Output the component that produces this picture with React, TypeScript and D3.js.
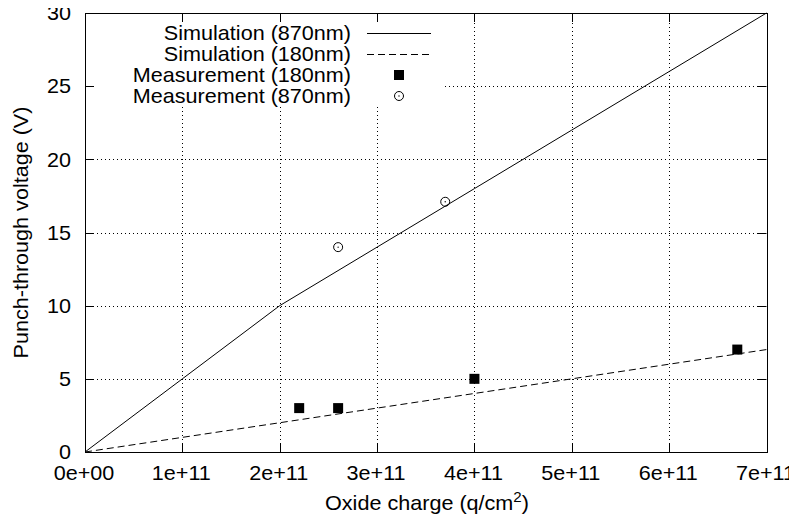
import React from "react";
import * as d3 from "d3";

const simX = [0, 1e11, 2e11, 3e11, 4e11, 5e11, 6e11, 7e11];
const sim870 = [0, 5, 10, 14, 18, 22, 26, 30];
const sim180 = [0, 1, 2, 3, 4, 5, 6, 7];
const meas180X = [2.2e11, 2.6e11, 4e11, 6.7e11];
const meas180Y = [3, 3, 5, 7];
const meas870X = [2.6e11, 3.7e11];
const meas870Y = [14, 17.1];
const xTicks = [0, 1e11, 2e11, 3e11, 4e11, 5e11, 6e11, 7e11];
const xTickLabels = ["0e+00", "1e+11", "2e+11", "3e+11", "4e+11", "5e+11", "6e+11", "7e+11"];
const yTicks = [0, 5, 10, 15, 20, 25, 30];
const legendLabels = ["Simulation (870nm)", "Simulation (180nm)", "Measurement (180nm)", "Measurement (870nm)"];

const SX = 1.08;
const FS = 20;

function Txt(props: { x: number; y: number; anchor?: string; dy?: string; rotate?: number; children: React.ReactNode }) {
  const { x, y, anchor = "start", dy, rotate = 0, children } = props;
  return (
    <g transform={`translate(${x},${y}) rotate(${rotate}) scale(${SX},1)`}>
      <text x={0} y={0} dy={dy} textAnchor={anchor as any} fontSize={FS} fill="#000">
        {children}
      </text>
    </g>
  );
}

export default function App() {
  const W = 797, H = 525;
  const L = 85, R = 766.5, T = 13, B = 452;
  const x = d3.scaleLinear().domain([0, 7e11]).range([L, R]);
  const y = d3.scaleLinear().domain([0, 30]).range([B, T]);
  const line = d3.line<number>().x((_, i) => x(simX[i])).y((d) => y(d));
  const font = "'Liberation Sans', Arial, Helvetica, sans-serif";
  const legX = 351, legSampleX0 = 367, legSampleX1 = 431, legY0 = 33, legDy = 21;
  const legMarkX = 399;
  const tickLen = 9;

  return (
    <div style={{ margin: -8 }}>
      <svg width={W} height={H} style={{ display: "block", background: "#fff" }} fontFamily={font}>
        <rect x={0} y={0} width={W} height={H} fill="#fff" />
        {/* grid */}
        <g stroke="#000" strokeWidth={1} strokeDasharray="1,3">
          {xTicks.slice(1, -1).map((t) => (
            <line key={"gx" + t} x1={Math.round(x(t)) + 0.5} x2={Math.round(x(t)) + 0.5} y1={B} y2={T} />
          ))}
          {yTicks.slice(1, -1).map((t) => (
            <line key={"gy" + t} y1={Math.round(y(t)) + 0.5} y2={Math.round(y(t)) + 0.5} x1={L} x2={R} />
          ))}
        </g>
        {/* legend background */}
        <rect x={L + 1} y={T + 1} width={443 - L - 1} height={106 - T - 1} fill="#fff" />
        {/* ticks */}
        <g stroke="#000" strokeWidth={1}>
          {xTicks.map((t) => (
            <g key={"tx" + t}>
              <line x1={Math.round(x(t)) + 0.5} x2={Math.round(x(t)) + 0.5} y1={B} y2={B - tickLen} />
              <line x1={Math.round(x(t)) + 0.5} x2={Math.round(x(t)) + 0.5} y1={T} y2={T + tickLen} />
            </g>
          ))}
          {yTicks.map((t) => (
            <g key={"ty" + t}>
              <line y1={Math.round(y(t)) + 0.5} y2={Math.round(y(t)) + 0.5} x1={L} x2={L + tickLen} />
              <line y1={Math.round(y(t)) + 0.5} y2={Math.round(y(t)) + 0.5} x1={R} x2={R - tickLen} />
            </g>
          ))}
        </g>
        {/* tick labels */}
        {xTicks.map((t, i) => (
          <Txt key={"lx" + t} x={x(t) - 1} y={480} anchor="middle">{xTickLabels[i]}</Txt>
        ))}
        {yTicks.map((t) => (
          <Txt key={"ly" + t} x={71} y={y(t)} dy="0.36em" anchor="end">{t}</Txt>
        ))}
        {/* axis titles */}
        <Txt x={427} y={510} anchor="middle">
          Oxide charge (q/cm<tspan dy={-8} fontSize={14}>2</tspan><tspan dy={8}>)</tspan>
        </Txt>
        <Txt x={28} y={(T + B) / 2} rotate={-90} anchor="middle">
          Punch-through voltage (V)
        </Txt>
        {/* data lines */}
        <path d={line(sim870) || ""} fill="none" stroke="#000" strokeWidth={1} />
        <path d={line(sim180) || ""} fill="none" stroke="#000" strokeWidth={1} strokeDasharray="7,4" />
        {/* markers */}
        {meas180X.map((v, i) => (
          <rect key={"m180" + i} x={x(v) - 5} y={y(meas180Y[i]) - 5} width={10} height={10} fill="#000" />
        ))}
        {meas870X.map((v, i) => (
          <g key={"m870" + i}>
            <circle cx={x(v)} cy={y(meas870Y[i])} r={4.5} fill="none" stroke="#000" strokeWidth={1} />
            <circle cx={x(v)} cy={y(meas870Y[i])} r={0.7} fill="#000" />
          </g>
        ))}
        {/* legend */}
        {legendLabels.map((lab, i) => (
          <Txt key={lab} x={legX} y={legY0 + i * legDy} dy="0.36em" anchor="end">{lab}</Txt>
        ))}
        <line x1={legSampleX0} x2={legSampleX1} y1={legY0 + 0.5} y2={legY0 + 0.5} stroke="#000" />
        <line x1={legSampleX0} x2={legSampleX1} y1={legY0 + legDy + 0.5} y2={legY0 + legDy + 0.5} stroke="#000" strokeDasharray="7,4" />
        <rect x={legMarkX - 5} y={legY0 + 2 * legDy - 5} width={10} height={10} fill="#000" />
        <circle cx={legMarkX} cy={legY0 + 3 * legDy} r={4.5} fill="none" stroke="#000" />
        <circle cx={legMarkX} cy={legY0 + 3 * legDy} r={0.7} fill="#000" />
        {/* border */}
        <rect x={L + 0.5} y={T + 0.5} width={Math.round(R - L)} height={Math.round(B - T)} fill="none" stroke="#000" strokeWidth={1} />
      </svg>
    </div>
  );
}
